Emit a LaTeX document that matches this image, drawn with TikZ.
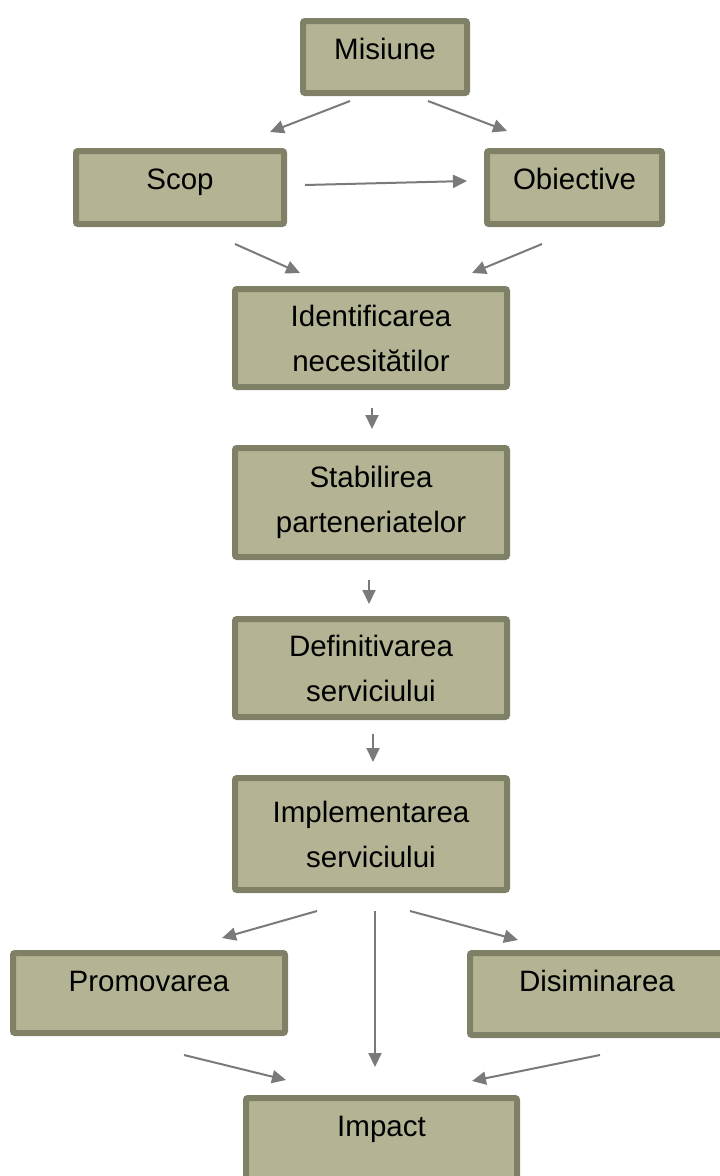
\documentclass[tikz,border=0pt]{standalone}
\usepackage{fontspec}
\setmainfont{Liberation Sans}
\usepackage{tikz}
\usetikzlibrary{arrows.meta,calc}
\definecolor{boxfill}{RGB}{180,180,148}
\definecolor{boxline}{RGB}{128,128,103}
\definecolor{arrgray}{RGB}{122,122,122}

\begin{document}
\begin{tikzpicture}[x=1pt,y=-1pt,
  box/.style={draw=boxline,fill=boxfill,line width=6pt,rounded corners=2pt,
    font=\fontsize{29.5}{45}\selectfont,align=center},
  topbox/.style={box,anchor=north,inner ysep=0pt,text height=38pt},
  arr/.style={draw=arrgray,line width=2pt,-{Triangle[length=14pt,width=13pt]}}]
\useasboundingbox (0,0) rectangle (720,1176);
\clip (0,0) rectangle (720,1176);

\node[topbox,minimum width=164pt,text depth=34pt] (mis) at (385,18) {Misiune};
\node[topbox,minimum width=208pt,text depth=35pt] (scop) at (180,148) {Scop};
\node[topbox,minimum width=175pt,text depth=35pt] (obi) at (574.5,148) {Obiective};
\node[box,minimum width=272pt,minimum height=98pt] (ident) at (371,338) {Identificarea\\necesitătilor};
\node[box,minimum width=272pt,minimum height=109pt] (stab) at (371,502.5) {Stabilirea\\parteneriatelor};
\node[box,minimum width=272pt,minimum height=98pt] (def) at (371,668) {Definitivarea\\serviciului};
\node[box,minimum width=272pt,minimum height=112pt] (impl) at (371,834) {Implementarea\\serviciului};
\node[topbox,minimum width=272pt,text depth=42pt] (prom) at (149,950) {Promovarea};
\node[topbox,minimum width=254pt,text depth=44pt] (dis) at (597,950) {Disiminarea};
\node[topbox,minimum width=271pt,text depth=62pt] (imp) at (381.5,1095) {Impact};

\draw[arr] ($(mis.south)+(-35,5)$) -- ($(scop.north)+(90,-16)$);
\draw[arr] ($(mis.south)+(43,5)$) -- ($(obi.north)+(-67.5,-17)$);
\draw[arr] ($(scop.east)+(18,-2.5)$) -- ($(obi.west)+(-17,-6.5)$);
\draw[arr] ($(scop.south)+(55,17)$) -- ($(ident.north)+(-71,-13)$);
\draw[arr] ($(obi.south)+(-32.5,17)$) -- ($(ident.north)+(101,-13)$);
\draw[arr] ($(ident.south)+(1,18)$) -- ($(stab.north)+(1,-16)$);
\draw[arr] ($(stab.south)+(-2,20)$) -- ($(def.north)+(-2,-12)$);
\draw[arr] ($(def.south)+(2,14)$) -- ($(impl.north)+(2,-13)$);
\draw[arr] ($(impl.south)+(-54,18)$) -- ($(prom.north)+(73,-12)$);
\draw[arr] ($(impl.south)+(4,18)$) -- ($(imp.north)+(-6.5,-28)$);
\draw[arr] ($(impl.south)+(39,18)$) -- ($(dis.north)+(-79,-10)$);
\draw[arr] ($(prom.south)+(35,19)$) -- ($(imp.north)+(-95.5,-15)$);
\draw[arr] ($(dis.south)+(3,17)$) -- ($(imp.north)+(90.5,-14)$);
\end{tikzpicture}
\end{document}
